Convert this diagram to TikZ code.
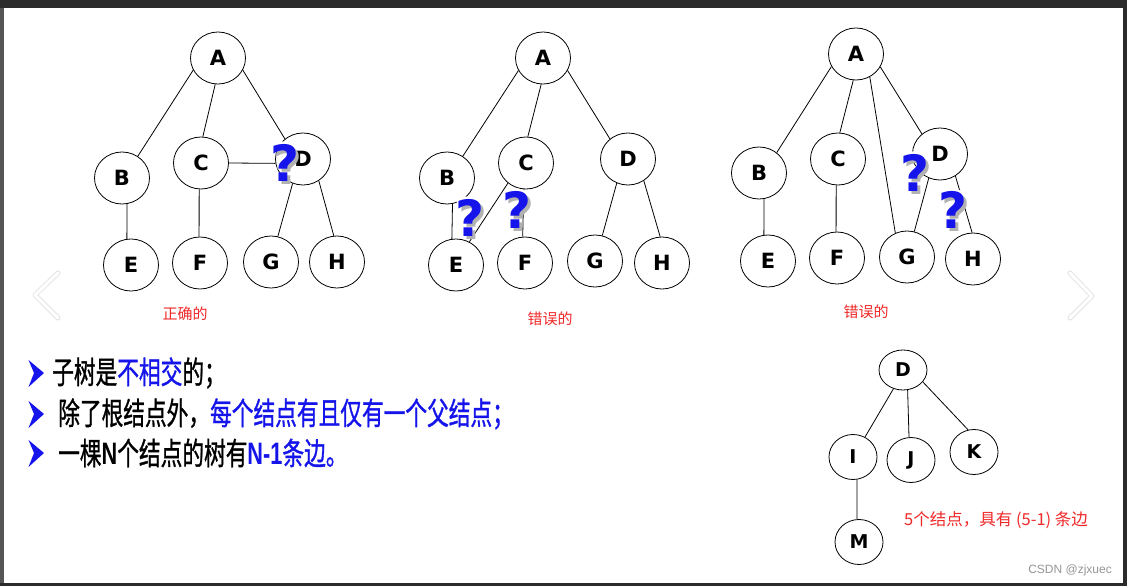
\documentclass[tikz,border=0pt]{standalone}
\usepackage{fontspec}
\setmainfont{Liberation Sans}
\newfontfamily\cjk{Noto Sans CJK SC}
\newfontfamily\cjkb[FakeBold=1.2]{Noto Sans CJK SC}
\newfontfamily\qfont{DejaVu Sans}
\usetikzlibrary{shapes.geometric}
\definecolor{qblue}{RGB}{20,20,235}
\definecolor{lred}{RGB}{240,40,40}
\definecolor{framec}{RGB}{43,43,43}
\definecolor{stripc}{RGB}{85,85,85}
\definecolor{wmark}{RGB}{150,150,150}
\begin{document}
\begin{tikzpicture}[x=1pt,y=-1pt,
  tn/.style={ellipse, draw, line width=0.8pt, minimum width=55pt, minimum height=52pt, inner sep=0pt, font=\qfont\fontsize{21}{21}\selectfont\bfseries},
  sn/.style={tn, minimum width=48pt, minimum height=45pt, font=\qfont\fontsize{19}{19}\selectfont\bfseries},
  ed/.style={line width=0.8pt},
  qm/.style={inner sep=0pt, text=qblue, font=\qfont\bfseries\fontsize{50}{50}\selectfont},
  qhalo/.style={inner sep=0pt, text=white, font=\qfont\bfseries\fontsize{56}{56}\selectfont},
  qshadow/.style={qm, text=black!30},
  lbl/.style={inner sep=0pt, text=lred, font=\cjk\fontsize{15}{15}\selectfont},
  bl/.style={inner sep=0pt, anchor=west, font=\cjkb\fontsize{31}{31}\selectfont},
  chev/.style={line width=5pt, line cap=round, line join=round, draw=black!10},
  chevin/.style={line width=3pt, line cap=round, line join=round, draw=white}
]
% frame
\fill[framec] (0,0) rectangle (1127,586);
\fill[stripc] (0,8) rectangle (4,583);
\fill[white] (4,8) rectangle (1123,583);
\useasboundingbox (0,0) rectangle (1127,586);

% chevrons
\coordinate (cl1) at (58,273); \coordinate (cl2) at (35,295); \coordinate (cl3) at (58,318);
\coordinate (cr1) at (1070,273); \coordinate (cr2) at (1092,296); \coordinate (cr3) at (1070,318);
\draw[chev] (cl1) -- (cl2) -- (cl3);
\draw[chevin] (cl1) -- (cl2) -- (cl3);
\draw[chev] (cr1) -- (cr2) -- (cr3);
\draw[chevin] (cr1) -- (cr2) -- (cr3);

% ---------- tree 1 ----------
\node[tn] (a1) at (218,58) {A};
\node[tn] (b1) at (122,178) {B};
\node[tn] (c1) at (201,163) {C};
\node[tn] (d1) at (303,159) {D};
\node[tn] (e1) at (131,265) {E};
\node[tn] (f1) at (200,263) {F};
\node[tn] (g1) at (271,262) {G};
\node[tn] (h1) at (337,262) {H};
\draw[ed] (a1.206) -- (b1.54);
\draw[ed] (a1.264) -- (c1.86);
\draw[ed] (a1.334) -- (d1.132);
\draw[ed] (c1.0) -- (d1.189);
\draw[ed] (b1.281) -- (e1.99);
\draw[ed] (c1.266) -- (f1.92);
\draw[ed] (d1.247) -- (g1.75);
\draw[ed] (d1.306) -- (h1.97);
\node[qhalo] at (285,163) {?};
\node[qshadow] at (287.5,165.5) {?};
\node[qm] (q1) at (285,163) {?};
\node[lbl] (t1) at (185,314) {正确的};

% ---------- tree 2 ----------
\node[tn] (a2) at (543,58) {A};
\node[tn] (b2) at (447,178) {B};
\node[tn] (c2) at (526,163) {C};
\node[tn] (d2) at (628,159) {D};
\node[tn] (e2) at (456,265) {E};
\node[tn] (f2) at (525,263) {F};
\node[tn] (g2) at (595,261) {G};
\node[tn] (h2) at (662,263) {H};
\draw[ed] (a2.207) -- (b2.54);
\draw[ed] (a2.266) -- (c2.86);
\draw[ed] (a2.333) -- (d2.132);
\draw[ed] (b2.282) -- (e2.99);
\draw[ed] (c2.228) -- (e2.60);
\draw[ed] (c2.265) -- (f2.95);
\draw[ed] (d2.245) -- (g2.74);
\draw[ed] (d2.306) -- (h2.94);
\foreach \qx/\qy in {470/218, 517/210}{
  \node[qhalo] at (\qx,\qy) {?};
  \node[qshadow] at (\qx+2.5,\qy+2.5) {?};
}
\node[qm] (q2) at (470,218) {?};
\node[qm] (q3) at (517,210) {?};
\node[lbl] (t2) at (550,319) {错误的};

% ---------- tree 3 ----------
\node[tn] (a3) at (856,54) {A};
\node[tn] (b3) at (759,173) {B};
\node[tn] (c3) at (838,159) {C};
\node[tn] (d3) at (940,154) {D};
\node[tn] (e3) at (768,261) {E};
\node[tn] (f3) at (837,258) {F};
\node[tn] (g3) at (907,257) {G};
\node[tn] (h3) at (973,259) {H};
\draw[ed] (a3.207) -- (b3.49);
\draw[ed] (a3.264) -- (c3.86);
\draw[ed] (a3.301) -- (g3.116);
\draw[ed] (a3.332) -- (d3.132);
\draw[ed] (b3.281) -- (e3.99);
\draw[ed] (c3.266) -- (f3.92);
\draw[ed] (d3.245) -- (g3.74);
\draw[ed] (d3.305) -- (h3.92);
\foreach \qx/\qy in {915/173, 953/210}{
  \node[qhalo] at (\qx,\qy) {?};
  \node[qshadow] at (\qx+2.5,\qy+2.5) {?};
}
\node[qm] (q4) at (915,173) {?};
\node[qm] (q5) at (953,210) {?};
\node[lbl] (t3) at (866,312) {错误的};

% ---------- tree 4 ----------
\node[sn, minimum height=40pt] (d4) at (903,370) {D};
\node[sn] (i4) at (853,457) {I};
\node[sn] (j4) at (911,460) {J};
\node[sn] (k4) at (974,452) {K};
\node[sn] (m4) at (859,542) {M};
\draw[ed] (d4.243) -- (i4.59);
\draw[ed] (d4.283) -- (j4.95);
\draw[ed] (d4.329) -- (k4.105);
\draw[ed] (i4.280) -- (m4.95);
\node[lbl, anchor=west, font=\cjk\fontsize{16.5}{16.5}\selectfont] (t4) at (904,520) {5个结点，具有 (5-1) 条边};
\node[inner sep=0pt, anchor=east, text=wmark, font=\fontsize{12}{12}\selectfont] (wm) at (1112,570) {CSDN @zjxuec};

% ---------- bullets ----------
\foreach \by in {373,414,453}{
  \fill[qblue] (28.5,\by-13) -- (44,\by) -- (28.5,\by+14) -- (34,\by) -- cycle;
}
\node[bl] (l1) at (52,373) {\scalebox{0.7}[1]{子树是\textcolor{qblue}{不相交}的；}};
\node[bl] (l2) at (58,414) {\scalebox{0.7}[1]{除了根结点外，\textcolor{qblue}{每个结点有且仅有一个父结点；}}};
\node[bl] (l3) at (58,453) {\scalebox{0.7}[1]{一棵{\rmfamily\bfseries N}个结点的树有\textcolor{qblue}{{\rmfamily\bfseries N-1}条边。}}};
\end{tikzpicture}
\end{document}
